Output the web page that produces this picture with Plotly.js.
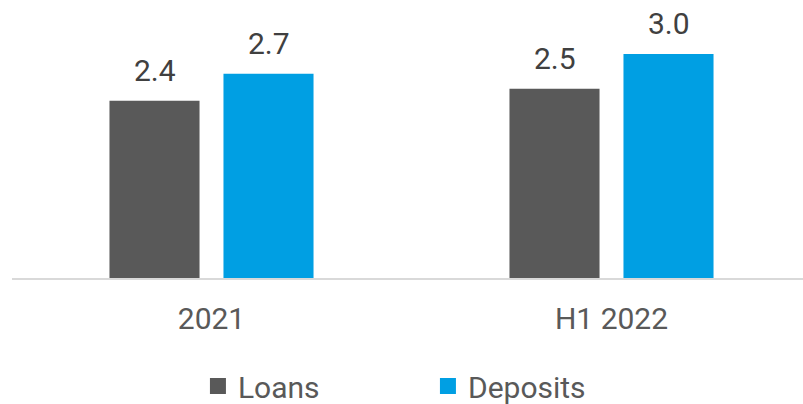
<!DOCTYPE html>
<html>
<head>
<meta charset="utf-8">
<script src="https://cdn.plot.ly/plotly-3.0.1.min.js"></script>
<style>html,body{margin:0;padding:0;background:#fff;}#chart{width:803px;height:404px;}</style>
</head>
<body>
<div id="chart"></div>
<script>
const categories = ["2021", "H1 2022"];
const loans = [2.36, 2.52];
const deposits = [2.72, 2.98];
const seriesNames = ["Loans", "Deposits"];
const colors = ["#595959", "#009FE3"];

const labelFont = {family: "Roboto", size: 30, color: "#404040"};
const tickFont = {family: "Roboto", size: 30, color: "#595959"};

const seriesVals = [loans, deposits];
const traces = seriesVals.map((vals, i) => ({
  type: "bar",
  name: seriesNames[i],
  x: categories,
  y: vals,
  marker: {color: colors[i]},
  showlegend: false,
  hoverinfo: "skip"
}));
// legend entries (larger square symbols)
seriesNames.forEach((n, i) => {
  traces.push({
    type: "scatter",
    mode: "markers",
    name: n,
    x: [categories[0]],
    y: [null],
    marker: {symbol: "square", size: 16, color: colors[i]},
    showlegend: true,
    hoverinfo: "skip"
  });
});

const annotations = [];
seriesVals.forEach((vals, i) => {
  vals.forEach((v, j) => {
    annotations.push({
      x: j, y: v, xref: "x", yref: "y",
      text: v.toFixed(1),
      showarrow: false,
      xanchor: "center", yanchor: "bottom",
      xshift: i === 0 ? -57 : 57,
      yshift: 11,
      font: labelFont
    });
  });
});

const layout = {
  width: 803, height: 404,
  margin: {l: 12, r: 0, t: 0, b: 126, pad: 0},
  paper_bgcolor: "#ffffff",
  plot_bgcolor: "#ffffff",
  barmode: "group",
  bargap: 0.43,
  bargroupgap: 0.21,
  xaxis: {
    type: "category",
    range: [-0.49875, 1.47875],
    showline: true, linecolor: "#d9d9d9", linewidth: 2,
    showgrid: false, zeroline: false,
    ticks: "",
    tickfont: tickFont,
    ticklabelstandoff: 13,
    automargin: false,
    fixedrange: true
  },
  yaxis: {
    range: [0, 3.7],
    visible: false,
    showgrid: false, zeroline: false,
    automargin: false,
    fixedrange: true
  },
  showlegend: true,
  legend: {
    orientation: "h",
    xref: "container", yref: "container",
    x: 0.2465, xanchor: "left",
    y: 0.0446, yanchor: "middle",
    entrywidth: 185, entrywidthmode: "pixels",
    font: {family: "Roboto", size: 30, color: "#595959"},
    itemclick: false, itemdoubleclick: false
  },
  annotations: annotations,
  hovermode: false
};

Plotly.newPlot("chart", traces, layout, {displayModeBar: false, staticPlot: true});
</script>
</body>
</html>
